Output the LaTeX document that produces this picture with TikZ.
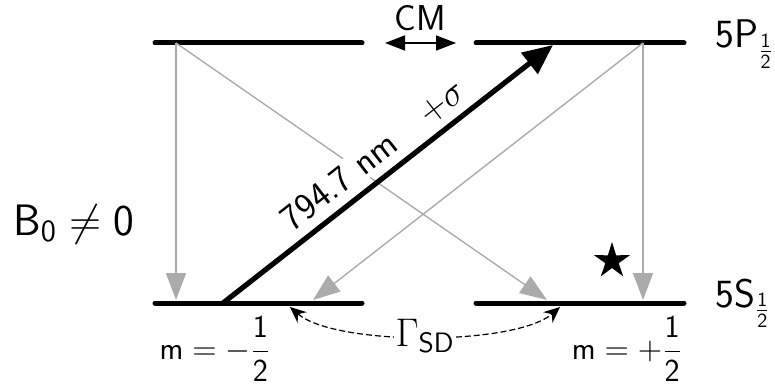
\RequirePackage{fix-cm}
\documentclass[tikz,border=0pt]{standalone}
\usepackage{amsmath}
\usepackage{amssymb}
\usepackage{fontspec}
\renewcommand{\familydefault}{\sfdefault}
\usetikzlibrary{arrows.meta, shapes.geometric}

\begin{document}
\begin{tikzpicture}[x=0.5pt,y=0.5pt,
 level/.style={line width=2.5pt,line cap=round},
 decay/.style={-{Triangle[length=13.5pt,width=10pt]},draw=black!33,line width=0.7pt},
 pump/.style={-{Triangle[length=15pt,width=13pt]},line width=2.6pt},
 lbl/.style={font=\fontsize{16}{19}\selectfont},
 state/.style={font=\fontsize{20}{24}\selectfont,anchor=base west,inner sep=0pt}]
 \useasboundingbox (0,0) rectangle (775,386);
 % Zeeman sublevels
 \coordinate (Pml) at (155,343); \coordinate (Pmr) at (362,343);
 \coordinate (Ppl) at (476,343); \coordinate (Ppr) at (684,343);
 \coordinate (Sml) at (155,83);  \coordinate (Smr) at (362,83);
 \coordinate (Spl) at (476,83);  \coordinate (Spr) at (684,83);
 \draw[level] (Pml) -- (Pmr);
 \draw[level] (Ppl) -- (Ppr);
 \draw[level] (Sml) -- (Smr);
 \draw[level] (Spl) -- (Spr);
 % ends of the transitions
 \coordinate (Pm) at (176,343); \coordinate (Pp) at (643,343);
 \coordinate (Sma) at (176,86); \coordinate (Smb) at (313,86);
 \coordinate (Spa) at (547,86); \coordinate (Spb) at (643,86);
 \coordinate (Sm0) at (223,83); \coordinate (Pp0) at (553,341);
 \draw[decay] (Pm) -- (Sma);
 \draw[decay] (Pm) -- (Spa);
 \draw[decay] (Pp) -- (Spb);
 \draw[decay] (Pp) -- (Smb);
 % pump label hides the decay line behind it
 \path (Sm0) -- node[font=\fontsize{18.5}{22}\selectfont,sloped,fill=white,
   inner sep=1pt,above=4pt,pos=0.5] (laser) {794.7 nm\quad$+\sigma$} (Pp0);
 \draw[pump] (Sm0) -- (Pp0);
 % coherent mixing
 \node[font=\fontsize{18}{22}\selectfont] (cm) at (420,368) {CM};
 \coordinate (cml) at (385,343); \coordinate (cmr) at (456,343);
 \draw[{Triangle[length=10pt,width=7.5pt]}-{Triangle[length=10pt,width=7.5pt]},
   line width=0.8pt] (cml) -- (cmr);
 % spin destruction
 \coordinate (gl) at (290,79); \coordinate (gr) at (560,79);
 \draw[dash pattern=on 3pt off 1.5pt,line width=0.6pt,
   {Stealth[length=8pt,width=7pt]}-{Stealth[length=8pt,width=7pt]}]
   (gl) .. controls (335,40) and (515,40) .. node[fill=white,inner sep=1pt,
   font=\fontsize{20}{24}\selectfont] (gamma) {$\Gamma_{\mathsf{SD}}$} (gr);
 \node[star,star points=5,star point ratio=2.7,fill=black,minimum size=19pt,
   inner sep=0pt] (dark) at (612,125) {};
 % labels
 \node[state] (P) at (715,338) {5P$_{\frac{\mathsf{1}}{\mathsf{2}}}$};
 \node[state] (S) at (715,79) {5S$_{\frac{\mathsf{1}}{\mathsf{2}}}$};
 \node[font=\fontsize{22}{26}\selectfont,anchor=base west,inner sep=0pt] (B)
   at (13,151) {$\mathsf{B}_{\mathsf{0}}\neq\mathsf{0}$};
 \node[lbl] (mm) at (215,37) {$\mathsf{m}=-\dfrac{\mathsf{1}}{\mathsf{2}}$};
 \node[lbl] (mp) at (627,37) {$\mathsf{m}=+\dfrac{\mathsf{1}}{\mathsf{2}}$};
\end{tikzpicture}
\end{document}
